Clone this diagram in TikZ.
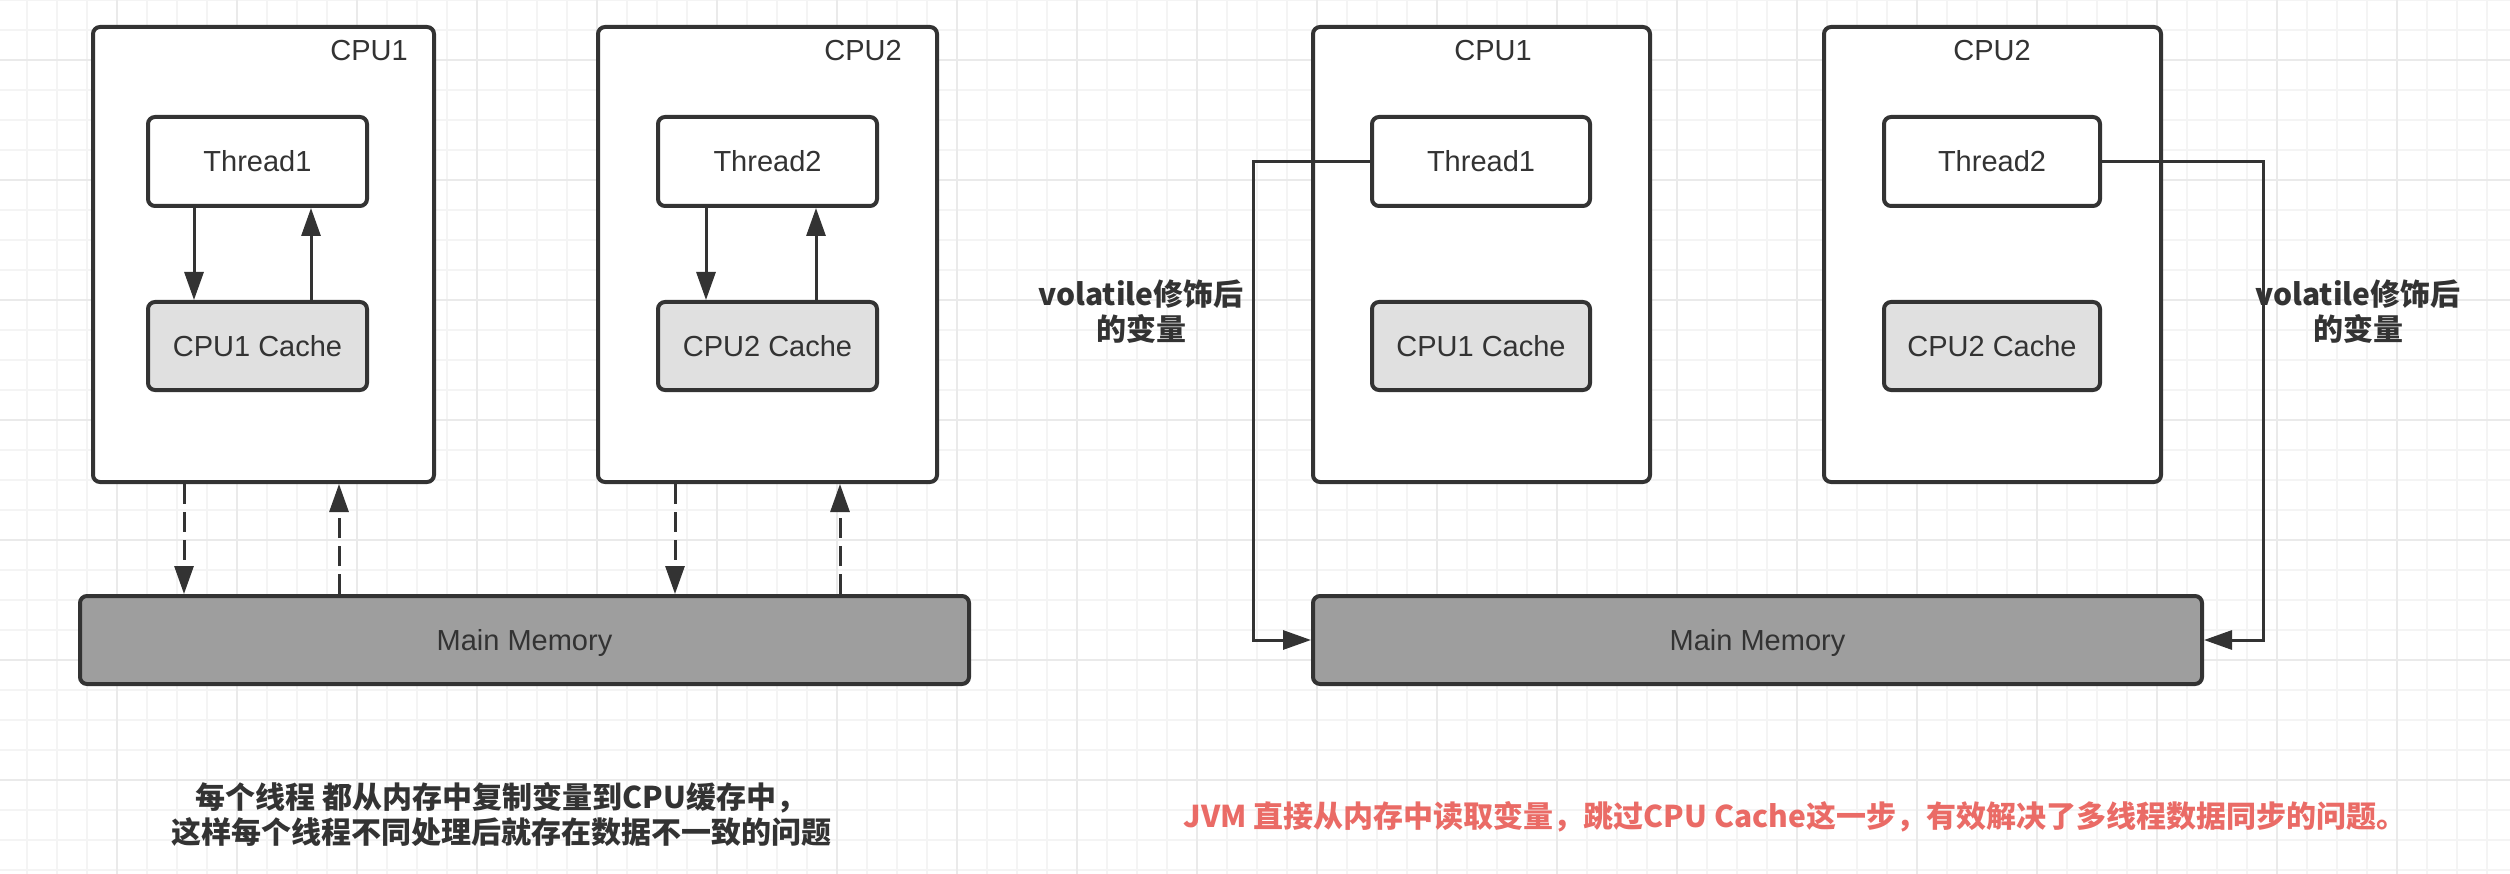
\documentclass[tikz,border=0pt]{standalone}
\usepackage{fontspec}
\setmainfont{Liberation Sans}
\newfontfamily\cjk{Noto Sans CJK SC}
\usetikzlibrary{arrows.meta,calc}
\definecolor{ink}{HTML}{333333}
\definecolor{gridminor}{HTML}{F4F4F4}
\definecolor{gridmajor}{HTML}{EAEAEA}
\definecolor{memfill}{HTML}{9E9E9E}
\definecolor{cachefill}{HTML}{E0E0E0}
\definecolor{note}{HTML}{EA6B66}
\begin{document}
\begin{tikzpicture}[x=1pt,y=-1pt,
  lbl/.style={font=\fontsize{29}{35}\selectfont},
  box/.style={draw=ink,line width=4pt,rounded corners=7pt,fill=white,inner sep=0pt,
    text=ink,lbl,text height=21pt,text depth=0pt},
  cpubox/.style={box,minimum width=#1,minimum height=455pt},
  thbox/.style={box,minimum width=#1,minimum height=89pt},
  cachebox/.style={box,fill=cachefill,minimum width=#1,minimum height=88pt},
  membox/.style={box,fill=memfill,minimum width=889pt,minimum height=88pt},
  cpulbl/.style={lbl,text=ink,inner sep=0pt},
  cjklbl/.style={font=\cjk\bfseries\fontsize{30}{35}\selectfont,text=ink,inner sep=0pt,align=center},
  arr/.style={draw=ink,line width=3pt,-{Triangle[length=28pt,width=19pt]}},
  dasharr/.style={arr,dash pattern=on 20pt off 8pt}
]
\useasboundingbox (0,0) rectangle (2510,874);
\fill[white] (0,0) rectangle (2510,874);
% grid
\foreach \k in {0,...,82} {
  \pgfmathsetmacro\gx{27+30*\k}
  \draw[gridminor,line width=1.5pt] (\gx,0) -- (\gx,874);
}
\foreach \gy in {0,30,...,870} {
  \draw[gridminor,line width=1.5pt] (0,\gy) -- (2510,\gy);
}
\foreach \gx in {117,237,...,2397} {
  \draw[gridmajor,line width=2pt] (\gx,0) -- (\gx,874);
}
\foreach \gy in {60,180,...,780} {
  \draw[gridmajor,line width=2pt] (0,\gy) -- (2510,\gy);
}

% ---------------- left diagram ----------------
\node[cpubox=341] (cpuA) at (263.5,254.5) {};
\node[cpubox=339] (cpuB) at (767.5,254.5) {};
\node[cpulbl,anchor=east] (cpuAl) at (408,51) {CPU1};
\node[cpulbl,anchor=east] (cpuBl) at (902,51) {CPU2};
\node[thbox=219] (thA) at (257.5,161.5) {Thread1};
\node[cachebox=219] (caA) at (257.5,346) {CPU1 Cache};
\node[thbox=219] (thB) at (767.5,161.5) {Thread2};
\node[cachebox=219] (caB) at (767.5,346) {CPU2 Cache};
\node[membox] (memL) at (524.5,640) {Main Memory};

\draw[arr] ([xshift=48]thA.south west) -- ([xshift=48]caA.north west);
\draw[arr] ([xshift=165]caA.north west) -- ([xshift=165]thA.south west);
\draw[arr] ([xshift=50]thB.south west) -- ([xshift=50]caB.north west);
\draw[arr] ([xshift=160]caB.north west) -- ([xshift=160]thB.south west);

\draw[dasharr] ([xshift=93]cpuA.south west) -- ([xshift=93]cpuA.south west |- memL.north);
\draw[dasharr] ([xshift=248]cpuA.south west |- memL.north) -- ([xshift=248]cpuA.south west);
\draw[dasharr] ([xshift=79]cpuB.south west) -- ([xshift=79]cpuB.south west |- memL.north);
\draw[dasharr] ([xshift=244]cpuB.south west |- memL.north) -- ([xshift=244]cpuB.south west);

\node[cjklbl] (noteL) at (501,815) {每个线程 都从内存中复制变量到CPU缓存中，\\这样每个线程不同处理后就存在数据不一致的问题};

% ---------------- right diagram ----------------
\node[cpubox=337] (cpuC) at (1481.5,254.5) {};
\node[cpubox=337] (cpuD) at (1992.5,254.5) {};
\node[cpulbl] (cpuCl) at (1493,51) {CPU1};
\node[cpulbl] (cpuDl) at (1992,51) {CPU2};
\node[thbox=218] (thC) at (1481,161.5) {Thread1};
\node[cachebox=218] (caC) at (1481,346) {CPU1 Cache};
\node[thbox=216] (thD) at (1992,161.5) {Thread2};
\node[cachebox=216] (caD) at (1992,346) {CPU2 Cache};
\node[membox] (memR) at (1757.5,640) {Main Memory};

\coordinate (bendL) at (1253,400);
\coordinate (bendR) at (2263,400);
\draw[arr] (thC.west) -- (thC.west -| bendL) |- (memR.west);
\draw[arr] (thD.east) -- (thD.east -| bendR) |- (memR.east);

\node[cjklbl] (volL) at (1141,312) {volatile修饰后\\的变量};
\node[cjklbl] (volR) at (2358,312) {volatile修饰后\\的变量};

\node[cjklbl,text=note] (noteR) at (1795,817) {JVM 直接从内存中读取变量，跳过CPU Cache这一步，有效解决了多线程数据同步的问题。};
\end{tikzpicture}
\end{document}
